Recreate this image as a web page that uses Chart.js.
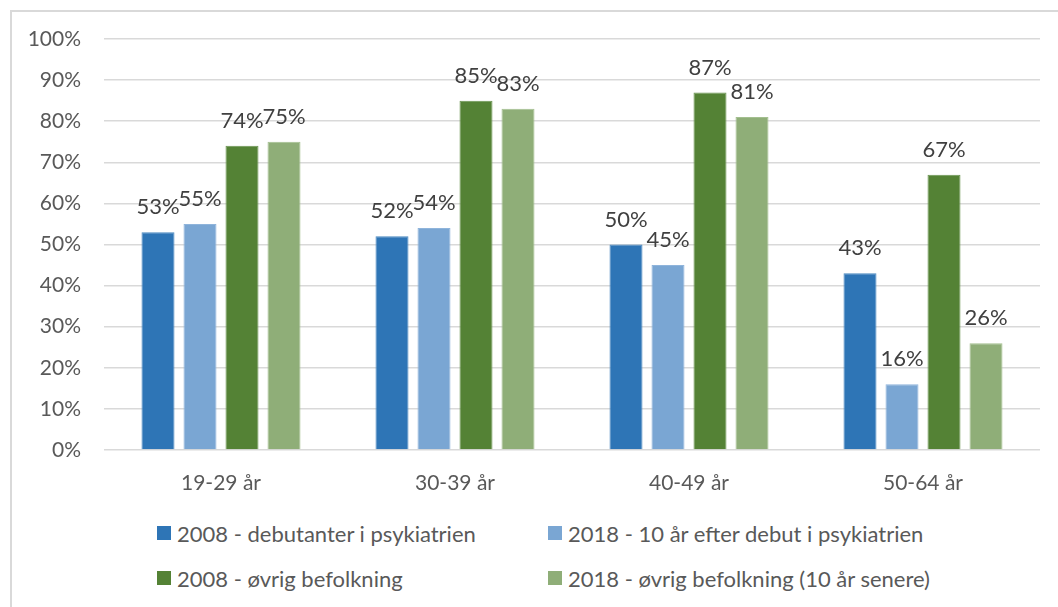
<!DOCTYPE html>
<html>
<head>
<meta charset="utf-8">
<script src="https://cdn.jsdelivr.net/npm/chart.js@4"></script>
<style>
  body { margin: 0; background: #fff; font-family: Lato, "Open Sans", sans-serif; }
  #frame { position: absolute; left: 10px; top: 10px; width: 1060px; height: 610px; border: 2px solid #d9d9d9; box-sizing: border-box; }
  #wrap { position: absolute; left: 0; top: 0; width: 1058px; height: 500px; }
  .leg { position: absolute; display: flex; align-items: center; font-size: 22px; color: #595959; white-space: nowrap; }
  .leg span.box { width: 14px; height: 14px; margin-right: 6px; display: inline-block; }
</style>
</head>
<body>
<div id="frame"></div>
<div id="wrap"><canvas id="chart"></canvas></div>
<div id="legend"></div>
<script>
// ===== DATA =====
const categories = ['19-29 år', '30-39 år', '40-49 år', '50-64 år'];
const tickLabels = ['0%', '10%', '20%', '30%', '40%', '50%', '60%', '70%', '80%', '90%', '100%'];
const seriesNames = [
  '2008 - debutanter i psykiatrien',
  '2018 - 10 år efter debut i psykiatrien',
  '2008 - øvrig befolkning',
  '2018 - øvrig befolkning (10 år senere)'
];
const debut2008 = [53, 52, 50, 43];
const debut2018 = [55, 54, 45, 16];
const pop2008 = [74, 85, 87, 67];
const pop2018 = [75, 83, 81, 26];

const colors = ['#2e75b6', '#7aa6d3', '#548235', '#8fae78'];
const borders = ['#4a88c0', '#8fb4db', '#6a9450', '#a3bf8f'];

// ===== VALUE LABELS ON TOP OF BARS =====
const valueLabels = {
  id: 'valueLabels',
  afterDatasetsDraw(chart) {
    const c = chart.ctx;
    c.save();
    c.font = '22px Lato, "Open Sans", sans-serif';
    c.fillStyle = '#404040';
    c.textAlign = 'center';
    c.textBaseline = 'middle';
    chart.data.datasets.forEach((ds, i) => {
      chart.getDatasetMeta(i).data.forEach((bar, j) => {
        c.fillText(ds.data[j] + '%', bar.x, bar.y - 25);
      });
    });
    c.restore();
  }
};

const datasets = [debut2008, debut2018, pop2008, pop2018].map((vals, i) => ({
  label: seriesNames[i],
  data: vals,
  backgroundColor: colors[i],
  borderColor: borders[i],
  borderWidth: 1,
  categoryPercentage: 0.718,
  barPercentage: 0.786
}));

const chart = new Chart(document.getElementById('chart'), {
  type: 'bar',
  data: { labels: categories, datasets: datasets },
  options: {
    responsive: true,
    maintainAspectRatio: false,
    animation: false,
    layout: { padding: { top: 39, right: 18, left: 0, bottom: 0 } },
    plugins: {
      legend: { display: false },
      tooltip: { enabled: false }
    },
    scales: {
      x: {
        grid: { display: false, drawTicks: false },
        border: { display: false },
        ticks: { color: '#595959', font: { family: 'Lato', size: 21 }, padding: 21 },
        afterFit(scale) { scale.height = 50; }
      },
      y: {
        min: 0,
        max: 100,
        grid: { color: '#d9d9d9', lineWidth: 1.5, drawTicks: false },
        border: { display: false },
        ticks: {
          stepSize: 10,
          color: '#595959',
          font: { family: 'Lato', size: 21 },
          padding: 23,
          callback: (v) => tickLabels[v / 10]
        },
        afterFit(scale) { scale.width = 104; }
      }
    }
  },
  plugins: [valueLabels]
});

// ===== LEGEND (two columns) =====
const legendPos = [[157, 533], [548, 533], [157, 578], [548, 578]];
const legendEl = document.getElementById('legend');
seriesNames.forEach((name, i) => {
  const item = document.createElement('div');
  item.className = 'leg';
  item.style.left = legendPos[i][0] + 'px';
  item.style.top = (legendPos[i][1] - 14) + 'px';
  item.style.height = '28px';
  item.innerHTML = '<span class="box" style="background:' + colors[i] + '"></span>' + name;
  legendEl.appendChild(item);
});
</script>
</body>
</html>
